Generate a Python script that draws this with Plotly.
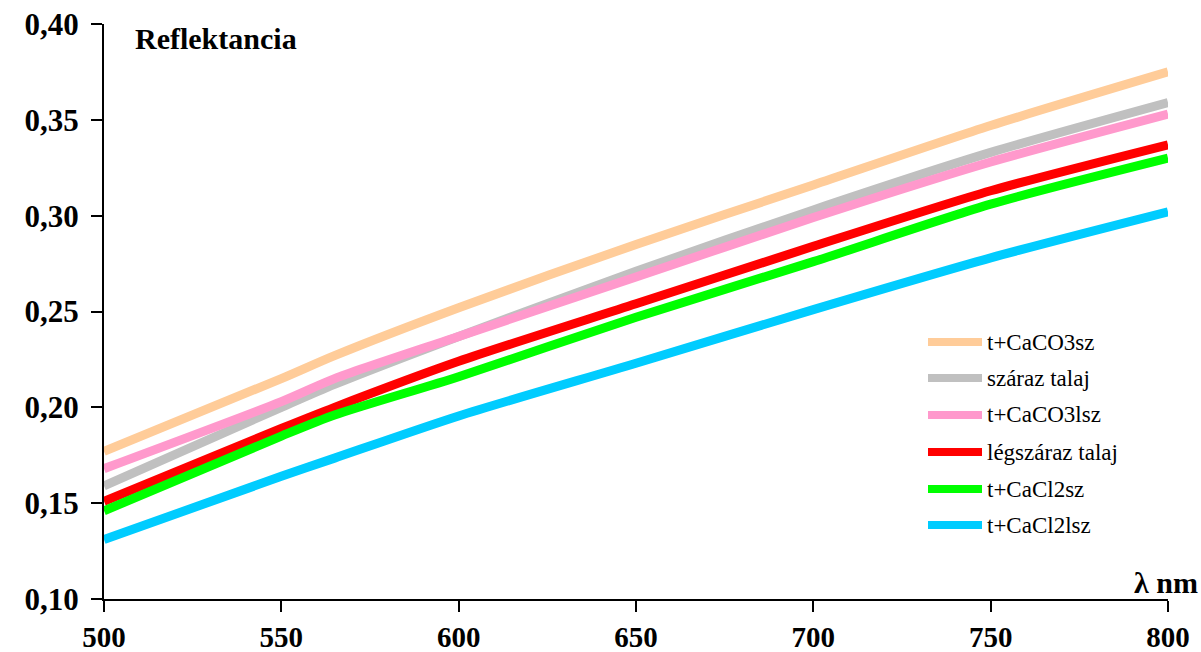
import plotly.graph_objects as go

# Wavelength (nm) and reflectance of the soil samples
wavelength = [500, 550, 565, 600, 650, 700, 750, 800]

t_caco3_sz = [0.177, 0.215, 0.227, 0.252, 0.285, 0.316, 0.347, 0.375]
szaraz_talaj = [0.159, 0.200, 0.212, 0.237, 0.271, 0.303, 0.333, 0.359]
t_caco3_lsz = [0.168, 0.203, 0.215, 0.237, 0.268, 0.299, 0.328, 0.353]
legszaraz_talaj = [0.151, 0.189, 0.200, 0.224, 0.254, 0.284, 0.313, 0.337]
t_cacl2_sz = [0.146, 0.185, 0.196, 0.216, 0.247, 0.276, 0.306, 0.330]
t_cacl2_lsz = [0.131, 0.164, 0.1735, 0.1955, 0.223, 0.251, 0.278, 0.302]

series_names = ["t+CaCO3sz", "száraz talaj", "t+CaCO3lsz",
                "légszáraz talaj", "t+CaCl2sz", "t+CaCl2lsz"]
series_values = [t_caco3_sz, szaraz_talaj, t_caco3_lsz,
                 legszaraz_talaj, t_cacl2_sz, t_cacl2_lsz]
series_colors = ["#FFCC99", "#C0C0C0", "#FF99CC", "#FF0000", "#00FF00", "#00CCFF"]

x_ticks = [500, 550, 600, 650, 700, 750, 800]
y_ticks = [0.10, 0.15, 0.20, 0.25, 0.30, 0.35, 0.40]
y_tick_text = ["0,10", "0,15", "0,20", "0,25", "0,30", "0,35", "0,40"]

W, H = 1201, 652
ML, MR, MT, MB = 104, 33, 24, 53
PW, PH = W - ML - MR, H - MT - MB


def px_x(px):
    return (px - ML) / PW


def px_y(py):
    return (H - MB - py) / PH


SERIF = "Liberation Serif, Times New Roman, serif"

fig = go.Figure()
for name, vals, col in zip(series_names, series_values, series_colors):
    fig.add_trace(go.Scatter(
        x=wavelength, y=vals, name=name, mode="lines",
        line=dict(color=col, width=9, shape="spline", smoothing=0.7),
        showlegend=False,
    ))

# Legend drawn by hand: long colored strokes with labels
shapes = []
annotations = []
legend_rows = [342, 378, 415, 452, 489, 525]
for name, col, py in zip(series_names, series_colors, legend_rows):
    shapes.append(dict(type="line", xref="paper", yref="paper",
                       x0=px_x(928), x1=px_x(982), y0=px_y(py), y1=px_y(py),
                       line=dict(color=col, width=8)))
    annotations.append(dict(xref="paper", yref="paper", x=px_x(985), y=px_y(py),
                            xanchor="left", yanchor="middle", showarrow=False,
                            text=name, font=dict(family=SERIF, size=23, color="black")))

annotations.append(dict(xref="paper", yref="paper", x=px_x(133), y=px_y(38),
                        xanchor="left", yanchor="middle", showarrow=False,
                        text="Reflektancia",
                        font=dict(family=SERIF, size=30, color="black", weight="bold")))
annotations.append(dict(xref="paper", yref="paper", x=px_x(1200), y=px_y(582),
                        xanchor="right", yanchor="middle", showarrow=False,
                        text="λ nm",
                        font=dict(family=SERIF, size=30, color="black", weight="bold")))

y_tick_font = dict(family=SERIF, size=31, color="black", weight="bold")
x_tick_font = dict(family=SERIF, size=29, color="black", weight="bold")

fig.update_layout(
    width=W, height=H,
    margin=dict(l=ML, r=MR, t=MT, b=MB, pad=0, autoexpand=False),
    paper_bgcolor="white", plot_bgcolor="white",
    shapes=shapes, annotations=annotations,
    xaxis=dict(range=[500, 800], tickvals=x_ticks, ticks="outside", ticklen=11,
               tickwidth=2, tickcolor="black", showline=True, linecolor="black",
               linewidth=2, showgrid=False, zeroline=False, tickfont=x_tick_font,
               ticklabelstandoff=0, automargin=False),
    yaxis=dict(range=[0.10, 0.40], tickvals=y_ticks, ticktext=y_tick_text,
               ticks="outside", ticklen=11, tickwidth=2, tickcolor="black",
               showline=True, linecolor="black", linewidth=2, showgrid=False,
               zeroline=False, tickfont=y_tick_font, ticklabelstandoff=6,
               automargin=False),
)

fig.write_html("out.html")
